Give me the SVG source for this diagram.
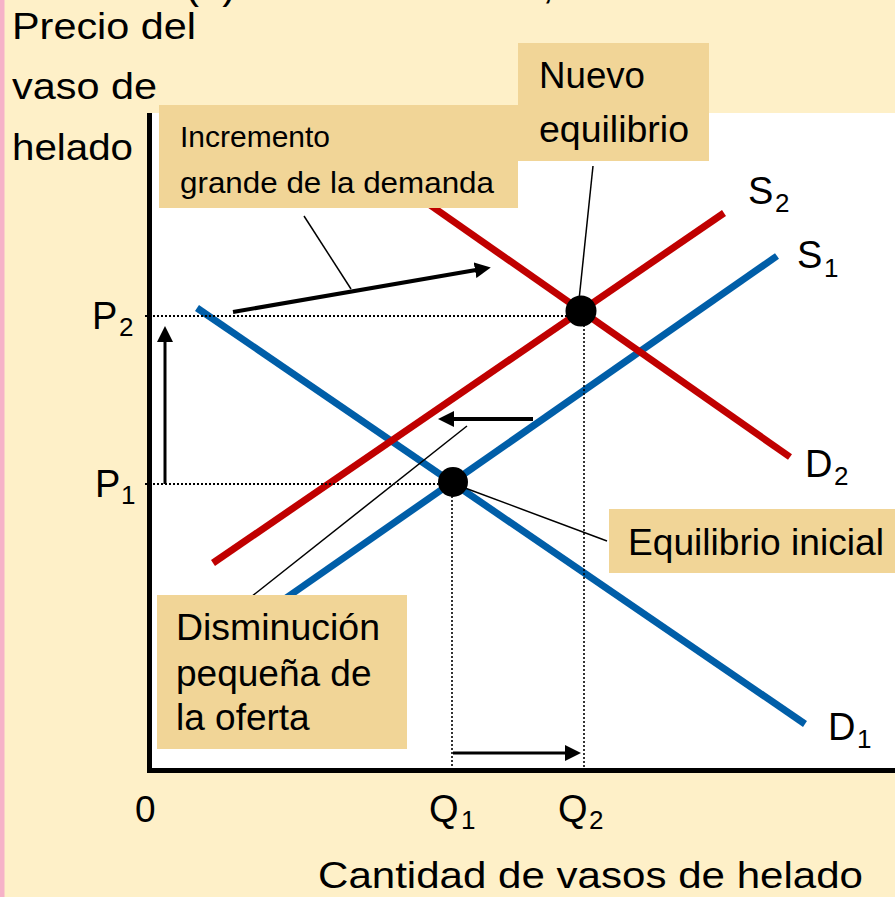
<svg xmlns="http://www.w3.org/2000/svg" width="895" height="897" viewBox="0 0 895 897">
<defs>
<style>
text{font-family:"Liberation Sans",Arial,sans-serif;fill:#000;}
.lbl{font-size:37px;}
.sm{font-size:30px;}
.big{font-size:38px;}
.sub{font-size:26px;}
.box{fill:#F1D597;}
.curve{fill:none;stroke-width:7;stroke-linecap:butt;}
.blue{stroke:#005EA8;}
.red{stroke:#C00000;}
.dot{stroke:#000;stroke-dasharray:2 2;fill:none;}
.lead{stroke:#000;stroke-width:1.5;fill:none;}
.arr{stroke:#000;fill:none;}
</style>
<marker id="ah" viewBox="0 0 16 16" markerUnits="userSpaceOnUse" markerWidth="16" markerHeight="16" refX="1" refY="8" orient="auto">
<path d="M0,0 L16,8 L0,16 z" fill="#000"/>
</marker>
</defs>
<rect x="0" y="0" width="895" height="897" fill="#FEF0C8"/>
<rect x="0" y="0" width="4.5" height="897" fill="#F6B2C8"/>
<rect x="151" y="113" width="744" height="657" fill="#FFFFFF"/>
<text x="185" y="-2" style="font-size:42px">(a) Precio aumenta, Cantidad aumenta</text>

<g id="curves">
<line id="D1" class="curve blue" x1="197" y1="308" x2="805" y2="724"/>
<line id="S1" class="curve blue" x1="777" y1="256" x2="276" y2="605"/>
<line id="S2" class="curve red" x1="724" y1="213" x2="213" y2="563"/>
<line id="D2" class="curve red" x1="790" y1="457" x2="420" y2="198"/>
</g>

<g id="connectors">
<line class="dot" x1="145" y1="316" x2="581" y2="316" stroke-width="2"/>
<line class="dot" x1="145" y1="484" x2="453" y2="484" stroke-width="2"/>
<line class="dot" x1="452" y1="484" x2="452" y2="770" stroke-width="1.6"/>
<line class="dot" x1="584" y1="313" x2="584" y2="770" stroke-width="1.6"/>
<line class="arr" x1="165" y1="484" x2="165" y2="341" stroke-width="3" marker-end="url(#ah)"/>
<line class="arr" x1="453" y1="753" x2="566" y2="753" stroke-width="3" marker-end="url(#ah)"/>
<line class="arr" x1="533" y1="419" x2="453" y2="419" stroke-width="4" marker-end="url(#ah)"/>
<line class="arr" x1="233" y1="312" x2="476" y2="270" stroke-width="4" marker-end="url(#ah)"/>
<line class="lead" x1="304" y1="216" x2="351" y2="289"/>
<line class="lead" x1="593" y1="166" x2="579" y2="300"/>
<line class="lead" x1="467" y1="426" x2="251" y2="597"/>
<line class="lead" x1="465" y1="488" x2="607" y2="541"/>
</g>

<g id="eq-nuevo-dot"><circle cx="581" cy="311" r="15.5" fill="#000"/></g>
<g id="eq-inicial-dot"><circle cx="453" cy="482" r="15" fill="#000"/></g>

<g id="box-incremento">
<rect class="box" x="159" y="105" width="359" height="103"/>
<text class="sm" x="180" y="147" textLength="150" lengthAdjust="spacingAndGlyphs">Incremento</text>
<text class="sm" x="180" y="193" textLength="314" lengthAdjust="spacingAndGlyphs">grande de la demanda</text>
</g>
<g id="box-nuevo">
<rect class="box" x="518" y="43" width="191" height="118"/>
<text class="lbl" x="539" y="88" textLength="106" lengthAdjust="spacingAndGlyphs">Nuevo</text>
<text class="lbl" x="539" y="142" textLength="150" lengthAdjust="spacingAndGlyphs">equilibrio</text>
</g>
<g id="box-inicial">
<rect class="box" x="609" y="509" width="286" height="64"/>
<text class="lbl" x="628" y="555" textLength="256" lengthAdjust="spacingAndGlyphs">Equilibrio inicial</text>
</g>
<g id="box-disminucion">
<rect class="box" x="157" y="595" width="250" height="154"/>
<text class="lbl" x="176" y="640" textLength="204" lengthAdjust="spacingAndGlyphs">Disminución</text>
<text class="lbl" x="176" y="686">pequeña de</text>
<text class="lbl" x="176" y="730">la oferta</text>
</g>

<g id="axes">
<line x1="149.5" y1="113" x2="149.5" y2="773" stroke="#000" stroke-width="5"/>
<line x1="147" y1="770.5" x2="895" y2="770.5" stroke="#000" stroke-width="5"/>
</g>

<g id="axis-titles">
<text class="lbl" x="12" y="39" textLength="184" lengthAdjust="spacingAndGlyphs">Precio del</text>
<text class="lbl" x="12" y="99" textLength="145" lengthAdjust="spacingAndGlyphs">vaso de</text>
<text class="lbl" x="12" y="160" textLength="121" lengthAdjust="spacingAndGlyphs">helado</text>
<text class="lbl" x="318" y="888" textLength="545" lengthAdjust="spacingAndGlyphs">Cantidad de vasos de helado</text>
</g>

<g id="labels">
<text class="big" x="92" y="329">P</text><text class="sub" x="119" y="336">2</text>
<text class="big" x="95" y="497">P</text><text class="sub" x="121" y="504">1</text>
<text class="big" x="748" y="204">S</text><text class="sub" x="775" y="212">2</text>
<text class="big" x="797" y="268">S</text><text class="sub" x="824" y="277">1</text>
<text class="big" x="805" y="477">D</text><text class="sub" x="834" y="485">2</text>
<text class="big" x="828" y="740">D</text><text class="sub" x="857" y="748">1</text>
<text class="lbl" x="135" y="822">0</text>
<text class="big" x="429" y="822">Q</text><text class="sub" x="461" y="829">1</text>
<text class="big" x="558" y="822">Q</text><text class="sub" x="589" y="829">2</text>
</g>
</svg>
